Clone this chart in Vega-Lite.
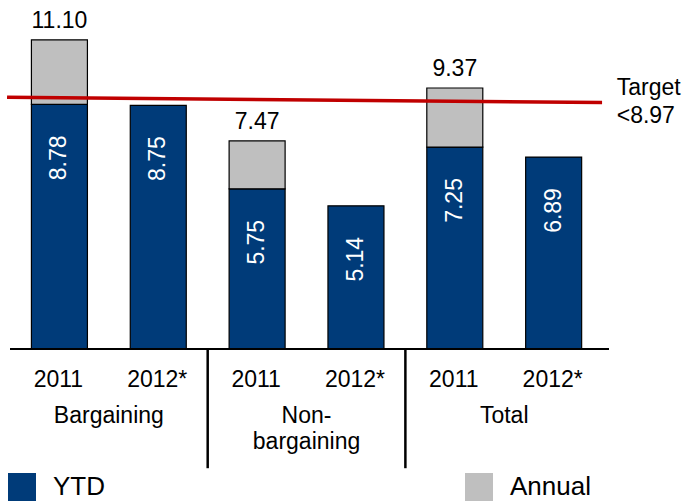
{
  "$schema": "https://vega.github.io/schema/vega-lite/v6.json",
  "width": 599,
  "height": 349,
  "autosize": {"type": "none"},
  "padding": {"left": 10, "top": 0, "right": 79, "bottom": 153},
  "config": {
    "view": {"stroke": null},
    "font": "Liberation Sans",
    "text": {"font": "Liberation Sans", "fontWeight": "normal"},
    "legend": {"padding": 0}
  },
  "datasets": {
    "bars": [
      {"group": "Bargaining", "year": "2011", "pos": 0, "ytd": 8.78, "total": 11.10},
      {"group": "Bargaining", "year": "2012*", "pos": 1, "ytd": 8.75, "total": null},
      {"group": "Non-\nbargaining", "year": "2011", "pos": 2, "ytd": 5.75, "total": 7.47},
      {"group": "Non-\nbargaining", "year": "2012*", "pos": 3, "ytd": 5.14, "total": null},
      {"group": "Total", "year": "2011", "pos": 4, "ytd": 7.25, "total": 9.37},
      {"group": "Total", "year": "2012*", "pos": 5, "ytd": 6.89, "total": null}
    ],
    "one": [{"k": 1}]
  },
  "layer": [
    {
      "data": {"name": "bars"},
      "mark": {"type": "bar", "width": 56, "stroke": "black", "strokeWidth": 1.2},
      "encoding": {
        "x": {"field": "pos", "type": "quantitative", "scale": {"domain": [-0.5, 5.56], "nice": false, "zero": false, "padding": 0}, "axis": null},
        "y": {"field": "ytd", "type": "quantitative", "scale": {"domain": [0, 12.53], "nice": false, "zero": true, "padding": 0}, "axis": null},
        "fill": {"datum": "YTD", "type": "nominal", "scale": {"domain": ["YTD", "Annual"], "range": ["#003b79", "#bfbfbf"]},
          "legend": {"orient": "none", "legendX": -2, "legendY": 473, "direction": "horizontal", "columns": 2, "columnPadding": 360, "title": null, "symbolType": "square", "symbolSize": 784, "symbolStrokeWidth": 0, "symbolOpacity": 1, "labelFontSize": 26, "labelFont": "Liberation Sans", "labelColor": "black", "labelOffset": 17, "labelLimit": 200}}
      }
    },
    {
      "data": {"name": "bars"},
      "transform": [{"filter": "datum.total != null"}],
      "mark": {"type": "bar", "width": 56, "stroke": "black", "strokeWidth": 1.2},
      "encoding": {
        "x": {"field": "pos", "type": "quantitative"},
        "y": {"field": "ytd", "type": "quantitative"},
        "y2": {"field": "total"},
        "fill": {"datum": "Annual", "type": "nominal"}
      }
    },
    {
      "data": {"name": "bars"},
      "mark": {"type": "text", "angle": 270, "align": "right", "baseline": "middle", "fontSize": 23, "color": "white", "yOffset": 31},
      "encoding": {
        "x": {"field": "pos", "type": "quantitative"},
        "y": {"field": "ytd", "type": "quantitative"},
        "text": {"field": "ytd", "type": "quantitative", "format": ".2f"}
      }
    },
    {
      "data": {"name": "bars"},
      "transform": [{"filter": "datum.total != null"}],
      "mark": {"type": "text", "align": "center", "baseline": "alphabetic", "fontSize": 23, "color": "black", "yOffset": -12},
      "encoding": {
        "x": {"field": "pos", "type": "quantitative"},
        "y": {"field": "total", "type": "quantitative"},
        "text": {"field": "total", "type": "quantitative", "format": ".2f"}
      }
    },
    {
      "data": {"name": "bars"},
      "mark": {"type": "text", "align": "center", "baseline": "alphabetic", "fontSize": 23, "color": "black", "xOffset": -1},
      "encoding": {
        "x": {"field": "pos", "type": "quantitative"},
        "y": {"datum": -1.354, "type": "quantitative"},
        "text": {"field": "year", "type": "nominal"}
      }
    },
    {
      "data": {"name": "bars"},
      "transform": [{"aggregate": [{"op": "mean", "field": "pos", "as": "center"}], "groupby": ["group"]}],
      "mark": {"type": "text", "align": "center", "baseline": "alphabetic", "fontSize": 23, "color": "black", "lineBreak": "\n", "lineHeight": 26.5},
      "encoding": {
        "x": {"field": "center", "type": "quantitative"},
        "y": {"datum": -2.646, "type": "quantitative"},
        "text": {"field": "group", "type": "nominal"}
      }
    },
    {
      "data": {"name": "one"},
      "mark": {"type": "rule", "color": "black", "strokeWidth": 2},
      "encoding": {"y": {"datum": 0, "type": "quantitative"}}
    },
    {
      "data": {"name": "one"},
      "mark": {"type": "rule", "color": "black", "strokeWidth": 2.5},
      "encoding": {"x": {"datum": 1.5, "type": "quantitative"}, "y": {"datum": 0, "type": "quantitative"}, "y2": {"datum": -4.28}}
    },
    {
      "data": {"name": "one"},
      "mark": {"type": "rule", "color": "black", "strokeWidth": 2.5},
      "encoding": {"x": {"datum": 3.5, "type": "quantitative"}, "y": {"datum": 0, "type": "quantitative"}, "y2": {"datum": -4.28}}
    },
    {
      "data": {"name": "one"},
      "mark": {"type": "rule", "color": "#c00000", "strokeWidth": 3.5},
      "encoding": {"x": {"datum": -0.53, "type": "quantitative"}, "x2": {"datum": 5.49}, "y": {"datum": 9.04, "type": "quantitative"}, "y2": {"datum": 8.85}}
    },
    {
      "data": {"name": "one"},
      "mark": {"type": "text", "text": ["Target", "<8.97"], "align": "left", "baseline": "alphabetic", "fontSize": 23, "fontWeight": "normal", "color": "black", "lineHeight": 28},
      "encoding": {"x": {"datum": 5.638, "type": "quantitative"}, "y": {"datum": 9.12, "type": "quantitative"}}
    }
  ]
}
